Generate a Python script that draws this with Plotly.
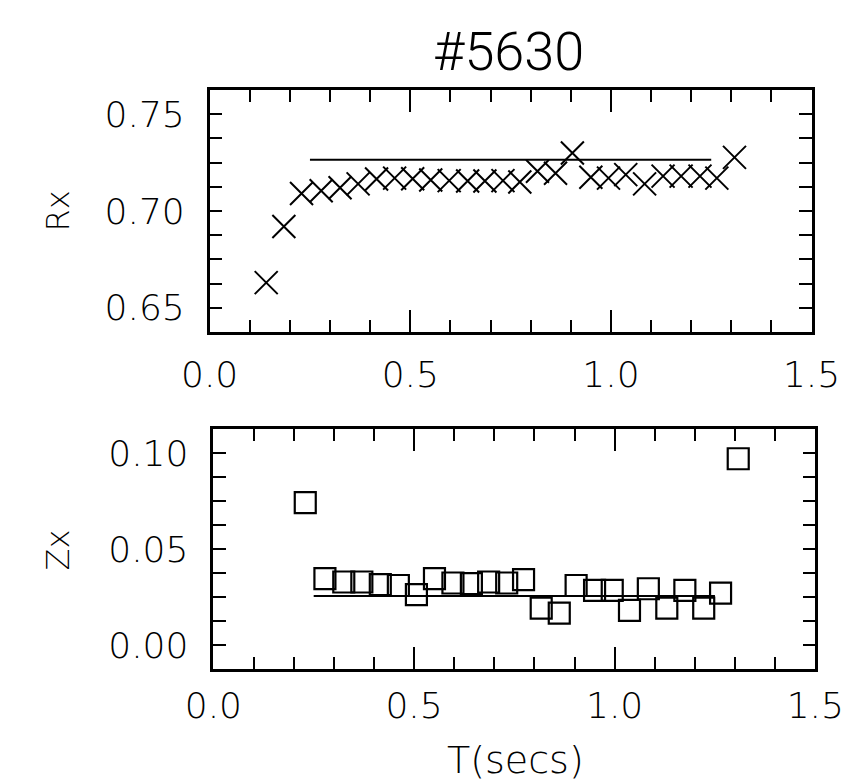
import plotly.graph_objects as go

# ---- data ----
T = [0.141, 0.185, 0.229, 0.278, 0.325, 0.370, 0.416, 0.461, 0.506, 0.551,
     0.597, 0.643, 0.686, 0.731, 0.773, 0.817, 0.862, 0.904, 0.950, 0.994,
     1.037, 1.084, 1.130, 1.175, 1.222, 1.264, 1.308]
RX = [0.663, 0.692, 0.709, 0.7105, 0.712, 0.714, 0.7165, 0.717, 0.7167, 0.716,
      0.7157, 0.7155, 0.7155, 0.7157, 0.715, 0.7205, 0.7195, 0.730, 0.7174, 0.717,
      0.7188, 0.714, 0.718, 0.718, 0.718, 0.717, 0.7277]
T_Z = T[2:]
ZX = [0.0742, 0.0346, 0.0328, 0.0328, 0.0314, 0.031, 0.0262, 0.0346, 0.0323, 0.032,
      0.0328, 0.0323, 0.034, 0.0192, 0.0166, 0.031, 0.0285, 0.0285, 0.018, 0.0293,
      0.0192, 0.0285, 0.0192, 0.027, 0.097]
FIT_T = [0.25, 1.25]
RX_FIT = [0.7265, 0.7265]
ZX_FIT = [0.0255, 0.0255]

X_TICKS = [0.0, 0.5, 1.0, 1.5]
X_TICKTEXT = ["0.0", "0.5", "1.0", "1.5"]
RX_TICKS = [0.65, 0.70, 0.75]
RX_TICKTEXT = ["0.65", "0.70", "0.75"]
ZX_TICKS = [0.0, 0.05, 0.10]
ZX_TICKTEXT = ["0.00", "0.05", "0.10"]

W, H = 868, 782
FONT = "DejaVu Sans"
TF = dict(family=FONT, size=36, color="black", weight=200)

fig = go.Figure()
fig.add_trace(go.Scatter(x=FIT_T, y=RX_FIT, mode="lines",
                         line=dict(color="black", width=2), xaxis="x", yaxis="y"))
fig.add_trace(go.Scatter(x=T, y=RX, mode="markers",
                         marker=dict(symbol="x-thin", size=23, color="black",
                                     line=dict(color="black", width=2)),
                         xaxis="x", yaxis="y"))
fig.add_trace(go.Scatter(x=FIT_T, y=ZX_FIT, mode="lines",
                         line=dict(color="black", width=2), xaxis="x2", yaxis="y2"))
fig.add_trace(go.Scatter(x=T_Z, y=ZX, mode="markers",
                         marker=dict(symbol="square-open", size=21, color="black",
                                     line=dict(color="black", width=2.2)),
                         xaxis="x2", yaxis="y2"))

def xax(domain, anchor, standoff):
    return dict(domain=domain, anchor=anchor, range=[0, 1.5],
                tickmode="array", tickvals=X_TICKS, ticktext=X_TICKTEXT,
                ticks="inside", ticklen=22, tickwidth=2, tickcolor="black",
                minor=dict(dtick=0.1, tick0=0, ticks="inside", ticklen=12,
                           tickwidth=2, tickcolor="black", showgrid=False),
                showline=True, linewidth=2.5, linecolor="black", mirror="allticks",
                showgrid=False, zeroline=False, tickfont=TF,
                ticklabelstandoff=standoff, fixedrange=True)

def yax(domain, anchor, rng, vals, text):
    return dict(domain=domain, anchor=anchor, range=rng,
                tickmode="array", tickvals=vals, ticktext=text,
                ticks="inside", ticklen=13, tickwidth=2, tickcolor="black",
                minor=dict(dtick=0.0125, tick0=rng[0], ticks="inside", ticklen=13,
                           tickwidth=2, tickcolor="black", showgrid=False),
                showline=True, linewidth=2.5, linecolor="black", mirror="allticks",
                showgrid=False, zeroline=False, tickfont=TF, ticklabelstandoff=15,
                fixedrange=True)

top_x = [185 / W, 830 / W]
top_y = [1 - 324 / H, 1 - 82 / H]
bot_x = [189 / W, 834 / W]
bot_y = [1 - 661 / H, 1 - 421 / H]

RX_RANGE = [0.6375, 0.7625]
ZX_RANGE = [-0.0125, 0.1125]

fig.update_layout(
    width=W, height=H, margin=dict(l=0, r=0, t=0, b=0),
    paper_bgcolor="white", plot_bgcolor="white", showlegend=False,
    xaxis=xax(top_x, "y", 9),
    yaxis=yax(top_y, "x", RX_RANGE, RX_TICKS, RX_TICKTEXT),
    xaxis2=xax(bot_x, "y2", 3),
    yaxis2=yax(bot_y, "x2", ZX_RANGE, ZX_TICKS, ZX_TICKTEXT),
    yaxis3=dict(overlaying="y", anchor="x", range=RX_RANGE, tickmode="array",
                tickvals=[0.70], showticklabels=False, ticks="inside", ticklen=25,
                tickwidth=2, tickcolor="black", showline=False, mirror="ticks",
                showgrid=False, zeroline=False, fixedrange=True),
    yaxis4=dict(overlaying="y2", anchor="x2", range=ZX_RANGE, tickmode="array",
                tickvals=[0.05], showticklabels=False, ticks="inside", ticklen=25,
                tickwidth=2, tickcolor="black", showline=False, mirror="ticks",
                showgrid=False, zeroline=False, fixedrange=True),
    annotations=[
        dict(text="#5630", x=505 / W, y=1 - 43 / H, xref="paper", yref="paper",
             showarrow=False, xanchor="center", yanchor="middle",
             font=dict(family="Roboto, DejaVu Sans", size=54,
                       color="black", weight=300)),
        dict(text="Rx", x=22 / W, y=1 - 203 / H, xref="paper", yref="paper",
             showarrow=False, textangle=-90, xanchor="center", yanchor="middle",
             font=dict(family=FONT, size=32, color="black", weight=200)),
        dict(text="Zx", x=22 / W, y=1 - 542 / H, xref="paper", yref="paper",
             showarrow=False, textangle=-90, xanchor="center", yanchor="middle",
             font=dict(family=FONT, size=32, color="black", weight=200)),
        dict(text="T(secs)", x=513 / W, y=6 / H, xref="paper", yref="paper",
             showarrow=False, xanchor="center", yanchor="bottom",
             font=dict(family=FONT, size=38, color="black", weight=200)),
    ],
)

fig.write_html("out.html")
